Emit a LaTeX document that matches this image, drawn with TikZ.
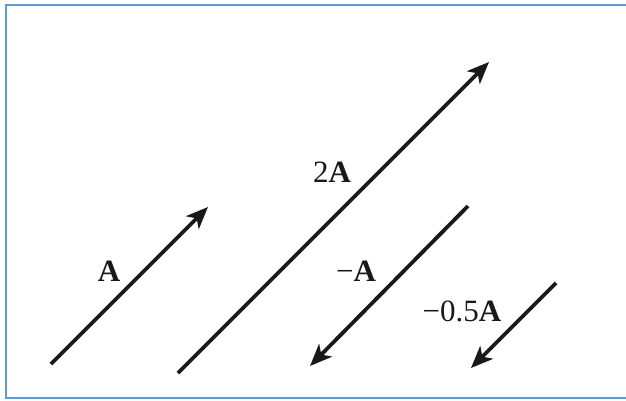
\documentclass[tikz,border=0pt]{standalone}
\usepackage{fontspec}
\setmainfont{Liberation Serif}
\usetikzlibrary{arrows.meta}
\definecolor{frameblue}{RGB}{95,155,215}
\definecolor{ink}{RGB}{25,25,25}
\tikzset{
  vec/.style={draw=ink, line width=3.8pt, -{Stealth[length=22pt,width=18pt,inset=6pt]}},
  lbl/.style={inner sep=0pt, font=\fontsize{31}{31}\selectfont, text=ink}
}
\begin{document}
\begin{tikzpicture}[x=1pt,y=-1pt]
\useasboundingbox (0,0) rectangle (626,400);
\fill[white] (0,0) rectangle (626,400);
\draw[frameblue, line width=2pt] (640,5) -- (6,5) -- (6,398) -- (640,398);
% endpoints
\coordinate (a0) at (51,364);  \coordinate (a1) at (208,207);
\coordinate (b0) at (178,373); \coordinate (b1) at (489,62);
\coordinate (c0) at (468,206); \coordinate (c1) at (310,366);
\coordinate (d0) at (556,283); \coordinate (d1) at (471,368);
\draw[vec] (a0) -- (a1);
\draw[vec] (b0) -- (b1);
\draw[vec] (c0) -- (c1);
\draw[vec] (d0) -- (d1);
% labels
\node[lbl] (la) at (109,271) {\textbf{A}};
\node[lbl] (lb) at (332,172) {2\textbf{A}};
\node[lbl] (lc) at (356,271) {−\textbf{A}};
\node[lbl] (ld) at (462,311) {−0.5\textbf{A}};
\end{tikzpicture}
\end{document}
